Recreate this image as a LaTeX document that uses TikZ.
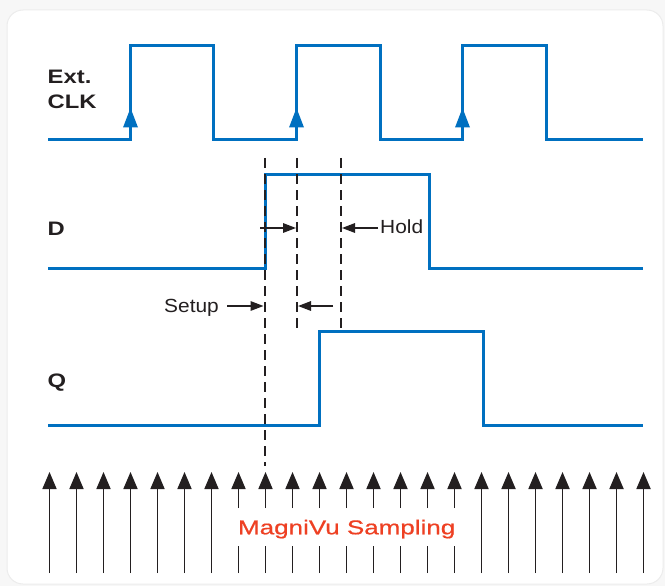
\documentclass[tikz,border=0pt]{standalone}
\usepackage{fontspec}
\setmainfont{Liberation Sans}
\newfontfamily\medfont[FakeBold=0.6]{Liberation Sans}
\usetikzlibrary{arrows.meta}
\definecolor{sigblue}{RGB}{0,112,192}
\definecolor{ink}{RGB}{35,31,32}
\definecolor{magred}{RGB}{238,64,35}
\definecolor{bggray}{RGB}{247,247,247}
\definecolor{edgegray}{RGB}{236,236,236}
\begin{document}
\begin{tikzpicture}[x=1pt,y=-1pt,
  wave/.style={sigblue,line width=3pt,line join=miter},
  guide/.style={ink,line width=1.2pt,dash pattern=on 10pt off 6pt},
  sample/.style={ink,line width=1.8pt,-{Triangle[length=17pt,width=14pt]}},
  samplegap/.style={ink,line width=1.8pt},
  marker/.style={ink,line width=1.5pt,-{Triangle[length=13pt,width=9.5pt]}},
  siglabel/.style={font=\bfseries\fontsize{19.5}{23}\selectfont,text=ink,anchor=base west,inner sep=0pt,xscale=1.22},
  note/.style={font=\fontsize{19}{22}\selectfont,text=ink,inner sep=0pt,xscale=1.1},
  clkmark/.style={fill=sigblue}]
\useasboundingbox (0,0) rectangle (665,586);
\fill[bggray] (0,0) rectangle (665,586);
\draw[edgegray,fill=white,line width=1pt,rounded corners=16pt] (7,10) rectangle (663,584);

% labels
\node[siglabel] (lext) at (47.5,84) {Ext.};
\node[siglabel] (lclk) at (47.5,108.3) {CLK};
\node[siglabel] (ld) at (47.5,235) {D};
\node[siglabel] (lq) at (47.5,387.5) {Q};

% clock
\draw[wave] (48,139.5) -- (130.5,139.5) -- (130.5,45.7) -- (213,45.7) -- (213,139.5)
  -- (296.5,139.5) -- (296.5,45.7) -- (380,45.7) -- (380,139.5)
  -- (462.5,139.5) -- (462.5,45.7) -- (546,45.7) -- (546,139.5) -- (643,139.5);
\foreach \x in {130.5,296.5,462.5}
  \fill[clkmark] (\x,108) -- (\x+7.5,127.5) -- (\x-7.5,127.5) -- cycle;

% D
\draw[wave] (48,268.3) -- (265.7,268.3) -- (265.7,174.3) -- (429.3,174.3) -- (429.3,268.3) -- (643,268.3);
% Q
\draw[wave] (48,425) -- (319,425) -- (319,331.5) -- (483,331.5) -- (483,425) -- (643,425);

% guides
\coordinate (g1t) at (265,158); \coordinate (g1b) at (265,466);
\coordinate (g2t) at (297,158); \coordinate (g2b) at (297,332);
\coordinate (g3t) at (341,158); \coordinate (g3b) at (341,330);
\draw[guide] (g1t) -- (g1b);
\draw[guide] (g2t) -- (g2b);
\draw[guide] (g3t) -- (g3b);

% setup / hold markers
\coordinate (m1s) at (260,228); \coordinate (m1e) at (296,228);
\coordinate (m2s) at (378,228); \coordinate (m2e) at (342,228);
\coordinate (m3s) at (227,306); \coordinate (m3e) at (263.5,306);
\coordinate (m4s) at (333,306); \coordinate (m4e) at (298,306);
\draw[marker] (m1s) -- (m1e);
\draw[marker] (m2s) -- (m2e);
\draw[marker] (m3s) -- (m3e);
\draw[marker] (m4s) -- (m4e);
\node[note,anchor=base west] (hold) at (380,233.5) {Hold};
\node[note,anchor=base west] (setup) at (164,312.5) {Setup};

% sampling arrows
\foreach \i in {0,...,22}{
  \pgfmathsetmacro{\xx}{49.5+27*\i}
  \ifnum\i<7
    \draw[sample] (\xx,573) -- (\xx,472);
  \else\ifnum\i>15
    \draw[sample] (\xx,573) -- (\xx,472);
  \else
    \draw[samplegap] (\xx,573) -- (\xx,546);
    \draw[sample] (\xx,508) -- (\xx,472);
  \fi\fi
}
\node[font=\medfont\fontsize{20}{23}\selectfont,text=magred,inner sep=0pt,anchor=base,xscale=1.3] (magni) at (346.7,534.3) {MagniVu Sampling};
\end{tikzpicture}
\end{document}
